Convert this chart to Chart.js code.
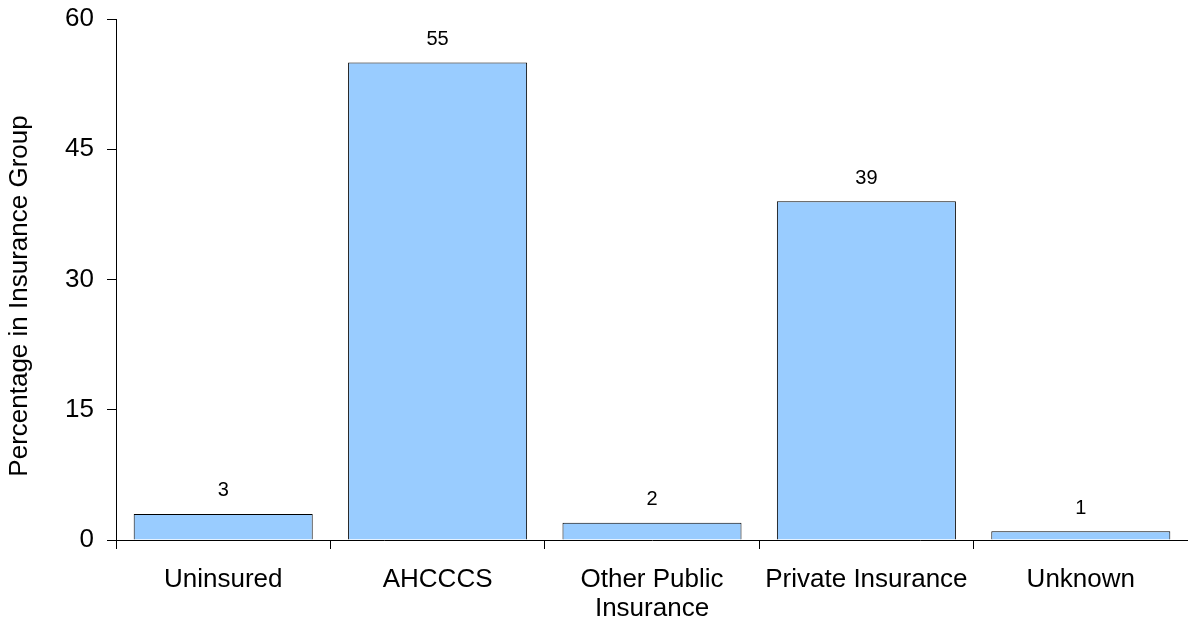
<!DOCTYPE html>
<html>
<head>
<meta charset="utf-8">
<script src="https://cdn.jsdelivr.net/npm/chart.js@4"></script>
<style>
html,body{margin:0;padding:0;background:#fff;}
#wrap{width:1188px;height:624px;position:relative;}
</style>
</head>
<body>
<div id="wrap"><canvas id="c" width="1188" height="624"></canvas></div>
<script>
const categories = ["Uninsured", "AHCCCS", ["Other Public", "Insurance"], "Private Insurance", "Unknown"];
const values = [3, 55, 2, 39, 1];
const yTicks = [0, 15, 30, 45, 60];
const yTitle = "Percentage in Insurance Group";

const FONT = "'Liberation Sans', Arial, sans-serif";

const labelPlugin = {
  id: 'valueLabels',
  afterDatasetsDraw(chart) {
    const ctx = chart.ctx;
    const meta = chart.getDatasetMeta(0);
    ctx.save();
    ctx.fillStyle = '#000';
    ctx.font = '20px ' + FONT;
    ctx.textAlign = 'center';
    ctx.textBaseline = 'middle';
    meta.data.forEach((bar, i) => {
      ctx.fillText(String(values[i]), bar.x, bar.y - 23);
    });
    ctx.restore();
  },
  afterDraw(chart) {
    const ctx = chart.ctx;
    ctx.save();
    ctx.fillStyle = '#000';
    ctx.font = '26px ' + FONT;
    ctx.textAlign = 'center';
    ctx.textBaseline = 'middle';
    ctx.translate(20, 296);
    ctx.rotate(-Math.PI / 2);
    ctx.fillText(yTitle, 0, 0);
    ctx.restore();
  }
};

new Chart(document.getElementById('c'), {
  type: 'bar',
  data: {
    labels: categories,
    datasets: [{
      data: values,
      backgroundColor: '#99CCFF',
      borderColor: '#000',
      borderWidth: 1,
      categoryPercentage: 1,
      barPercentage: 0.835
    }]
  },
  options: {
    responsive: false,
    animation: false,
    events: [],
    layout: { padding: { top: 19, right: 0, bottom: 0, left: 0 } },
    plugins: { legend: { display: false }, tooltip: { enabled: false } },
    scales: {
      x: {
        offset: true,
        grid: { offset: true, drawOnChartArea: false, drawTicks: true, tickLength: 9, color: '#000' },
        border: { display: true, color: '#000', width: 1 },
        ticks: { color: '#000', font: { family: FONT, size: 26, lineHeight: 1.12 }, padding: 16, maxRotation: 0, autoSkip: false },
        afterFit(scale) { scale.height = 84; scale.paddingLeft = 0; scale.paddingRight = 0; }
      },
      y: {
        min: 0, max: 60,
        afterBuildTicks(scale) { scale.ticks = yTicks.map(v => ({ value: v })); },
        grid: { drawOnChartArea: false, drawTicks: true, tickLength: 9, color: '#000' },
        border: { display: true, color: '#000', width: 1 },
        ticks: { color: '#000', font: { family: FONT, size: 26 }, padding: 13 },
        title: { display: false },
        afterFit(scale) { scale.width = 116; scale.paddingTop = 0; scale.paddingBottom = 0; }
      }
    }
  },
  plugins: [labelPlugin]
});
</script>
</body>
</html>
